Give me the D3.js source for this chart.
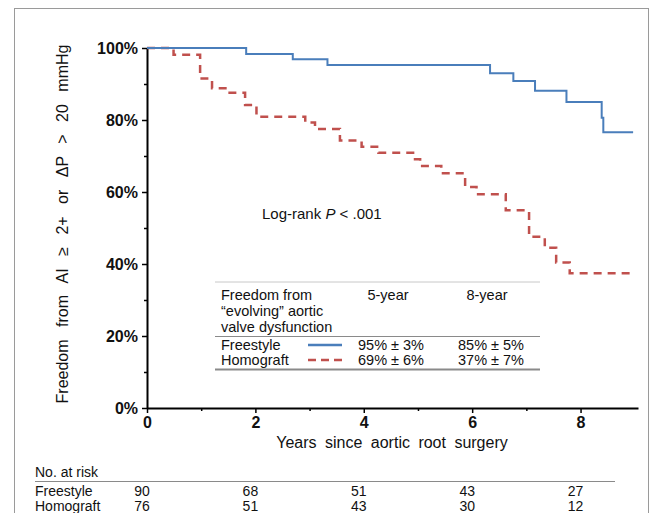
<!DOCTYPE html>
<html>
<head>
<meta charset="utf-8">
<script src="https://cdn.jsdelivr.net/npm/d3@7"></script>
<style>
  html, body { margin: 0; padding: 0; background: #fff; }
  svg { display: block; font-family: "Liberation Sans", Arial, Helvetica, sans-serif; }
</style>
</head>
<body>
<svg id="chart" width="659" height="513"></svg>
<script>
// ---- data ----
const freestyleTimes = [0, 1.83, 2.69, 3.33, 6.33, 6.76, 7.16, 7.74, 8.39, 8.42, 8.97];
const freestyleSurv  = [1.00, 0.983, 0.969, 0.953, 0.930, 0.908, 0.881, 0.850, 0.806, 0.766, 0.766];
const homograftTimes = [0, 0.49, 0.98, 1.20, 1.50, 1.81, 2.02, 2.92, 3.10, 3.56, 3.96, 4.27, 4.91, 5.04, 5.43, 5.87, 6.08, 6.62, 7.05, 7.34, 7.55, 7.80, 8.97];
const homograftSurv  = [1.00, 0.981, 0.915, 0.888, 0.876, 0.842, 0.809, 0.793, 0.775, 0.743, 0.726, 0.709, 0.691, 0.672, 0.652, 0.614, 0.594, 0.549, 0.476, 0.445, 0.404, 0.374, 0.374];
const xTicks = [0, 2, 4, 6, 8];
const xMinorTicks = [1, 3, 5, 7];
const yTicks = [0, 0.2, 0.4, 0.6, 0.8, 1.0];
const yMinorTicks = [0.1, 0.3, 0.5, 0.7, 0.9];
const riskYears = [0, 2, 4, 6, 8];
const riskFreestyle = [90, 68, 51, 43, 27];
const riskHomograft = [76, 51, 43, 30, 12];
const groups = ["Freestyle", "Homograft"];
const fiveYear = ["95% ± 3%", "69% ± 6%"];
const eightYear = ["85% ± 5%", "37% ± 7%"];

const blue = "#4a7ebb";
const red = "#c0504d";

const svg = d3.select("#chart");
svg.append("rect").attr("width", 659).attr("height", 513).attr("fill", "#fff");
// frame
svg.append("rect").attr("x", 14.5).attr("y", 8.5).attr("width", 634).attr("height", 520)
  .attr("fill", "none").attr("stroke", "#9a9a9a").attr("stroke-width", 1);

const x = d3.scaleLinear().domain([0, 9.06]).range([147, 638]);
const y = d3.scaleLinear().domain([0, 1]).range([408, 48]);

// minor ticks
svg.append("g").attr("transform", "translate(147,0)")
  .call(d3.axisLeft(y).tickValues(yMinorTicks).tickSize(3).tickFormat(""))
  .call(g => g.select(".domain").remove())
  .call(g => g.selectAll("line").attr("stroke", "#000").attr("stroke-width", 1.5));
svg.append("g").attr("transform", "translate(0,408)")
  .call(d3.axisBottom(x).tickValues(xMinorTicks).tickSize(3).tickFormat(""))
  .call(g => g.select(".domain").remove())
  .call(g => g.selectAll("line").attr("stroke", "#000").attr("stroke-width", 1.5));

// y axis
const yAxis = svg.append("g").attr("transform", "translate(147,0)")
  .call(d3.axisLeft(y).tickValues(yTicks).tickSize(5).tickSizeOuter(0).tickPadding(4).tickFormat(d3.format(".0%")));
yAxis.select(".domain").attr("stroke", "#000").attr("stroke-width", 2);
yAxis.selectAll(".tick line").attr("stroke", "#000").attr("stroke-width", 1.5);
yAxis.selectAll(".tick text").attr("font-size", 16).attr("font-weight", "bold")
  .attr("font-family", "Liberation Sans, Arial, sans-serif").attr("fill", "#111");

// x axis
const xAxis = svg.append("g").attr("transform", "translate(0,408)")
  .call(d3.axisBottom(x).tickValues(xTicks).tickSize(5).tickSizeOuter(0).tickPadding(4));
xAxis.select(".domain").attr("stroke", "#000").attr("stroke-width", 2);
xAxis.selectAll(".tick line").attr("stroke", "#000").attr("stroke-width", 1.5);
xAxis.selectAll(".tick text").attr("font-size", 16).attr("font-weight", "bold")
  .attr("font-family", "Liberation Sans, Arial, sans-serif").attr("fill", "#111");

// axis titles
svg.append("text").attr("x", 392).attr("y", 448).attr("text-anchor", "middle")
  .attr("font-size", 16).attr("word-spacing", "4px").attr("fill", "#111")
  .text("Years since aortic root surgery");
svg.append("text").attr("transform", "translate(68,224) rotate(-90)").attr("text-anchor", "middle")
  .attr("font-size", 16).attr("word-spacing", "8px").attr("fill", "#111")
  .text("Freedom from AI ≥ 2+ or ΔP > 20 mmHg");

// curves
const line = d3.line().x(d => x(d[0])).y(d => y(d[1])).curve(d3.curveStepAfter);
svg.append("path").datum(d3.zip(homograftTimes, homograftSurv))
  .attr("d", line).attr("fill", "none").attr("stroke", red).attr("stroke-width", 2.5)
  .attr("stroke-dasharray", "8,6");
svg.append("path").datum(d3.zip(freestyleTimes, freestyleSurv))
  .attr("d", line).attr("fill", "none").attr("stroke", blue).attr("stroke-width", 2);

// log-rank
const lr = svg.append("text").attr("x", 262).attr("y", 219).attr("font-size", 15).attr("fill", "#111");
lr.append("tspan").text("Log-rank ");
lr.append("tspan").attr("font-style", "italic").text("P");
lr.append("tspan").text(" < .001");

// legend table
const lg = svg.append("g").attr("font-size", 14.5).attr("fill", "#111");
lg.append("line").attr("x1", 215).attr("x2", 540).attr("y1", 282).attr("y2", 282)
  .attr("stroke", "#c8c8c8").attr("stroke-width", 1);
lg.append("line").attr("x1", 215).attr("x2", 540).attr("y1", 336.5).attr("y2", 336.5)
  .attr("stroke", "#8a8a8a").attr("stroke-width", 1);
lg.append("line").attr("x1", 215).attr("x2", 540).attr("y1", 369.5).attr("y2", 369.5)
  .attr("stroke", "#8a8a8a").attr("stroke-width", 2);
["Freedom from", "“evolving” aortic", "valve dysfunction"].forEach((t, i) => {
  lg.append("text").attr("x", 221).attr("y", 300 + i * 16).text(t);
});
lg.append("text").attr("x", 388).attr("y", 300).attr("text-anchor", "middle").text("5-year");
lg.append("text").attr("x", 487).attr("y", 300).attr("text-anchor", "middle").text("8-year");
groups.forEach((gname, i) => {
  const yy = 350 + i * 15;
  lg.append("text").attr("x", 221).attr("y", yy).text(gname);
  lg.append("text").attr("x", 391).attr("y", yy).attr("text-anchor", "middle").text(fiveYear[i]);
  lg.append("text").attr("x", 491).attr("y", yy).attr("text-anchor", "middle").text(eightYear[i]);
  lg.append("line").attr("x1", 308).attr("x2", 342).attr("y1", yy - 5).attr("y2", yy - 5)
    .attr("stroke", i === 0 ? blue : red).attr("stroke-width", 2.5)
    .attr("stroke-dasharray", i === 0 ? null : "8,5");
});

// number at risk
const rk = svg.append("g").attr("font-size", 14).attr("fill", "#111");
rk.append("text").attr("x", 35).attr("y", 477).text("No. at risk");
rk.append("line").attr("x1", 35).attr("x2", 615).attr("y1", 481.5).attr("y2", 481.5)
  .attr("stroke", "#8a8a8a").attr("stroke-width", 1);
[riskFreestyle, riskHomograft].forEach((row, i) => {
  const yy = 496 + i * 15;
  rk.append("text").attr("x", 35).attr("y", yy).text(groups[i]);
  rk.selectAll(null).data(row).join("text")
    .attr("x", (d, j) => x(riskYears[j]) - 5).attr("y", yy).attr("text-anchor", "middle")
    .text(d => d);
});
</script>
</body>
</html>
